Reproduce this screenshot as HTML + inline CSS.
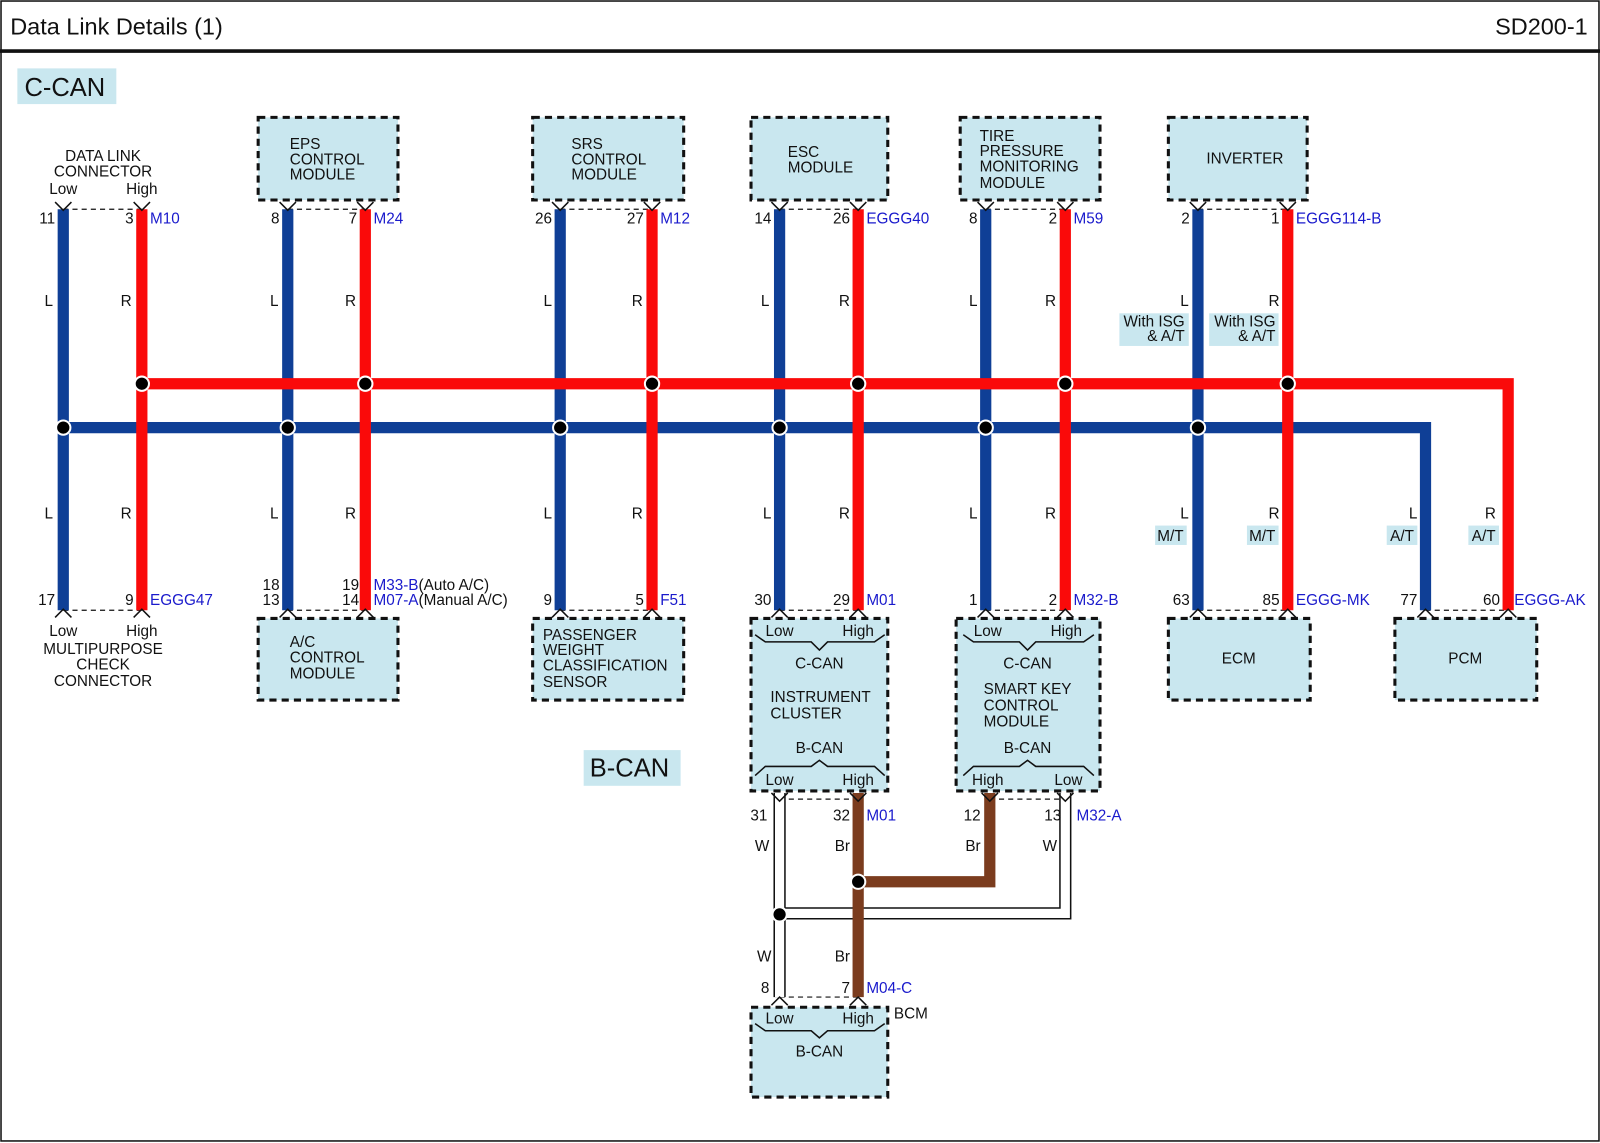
<!DOCTYPE html>
<html><head><meta charset="utf-8"><style>
html,body{margin:0;padding:0;background:#fff}
svg{display:block}
text{font-family:"Liberation Sans",Arial,sans-serif;font-size:15px;fill:#111}
.b{fill:#1a1acc}
.box{fill:#c9e7ef;stroke:#111;stroke-width:3;stroke-dasharray:7,5}
.dl{stroke:#111;stroke-width:1.2;stroke-dasharray:5,4;fill:none}
.ch{stroke:#111;stroke-width:1.5;fill:none}
.bl{stroke:#0f3f96;stroke-width:11;fill:none}
.rd{stroke:#fa0a0a;stroke-width:11;fill:none}
.br{stroke:#7b3c1e;stroke-width:11;fill:none}
.dot{fill:#000;stroke:#fff;stroke-width:2}
.c{text-anchor:middle}
.r{text-anchor:end}
</style></head><body>
<svg width="1600" height="1143" viewBox="0 0 1568 1120" preserveAspectRatio="none">
<rect x="1" y="1" width="1566" height="1117" fill="#fff" stroke="#111" stroke-width="1.5"/>
<text x="10" y="34" style="font-size:23px">Data Link Details (1)</text>
<text x="1556" y="34" class="r" style="font-size:23px">SD200-1</text>
<line x1="0" y1="50" x2="1568" y2="50" stroke="#111" stroke-width="3.5"/>
<rect x="17" y="67" width="97" height="35" fill="#c9e7ef"/>
<text x="24" y="94" style="font-size:25px">C-CAN</text>
<rect x="572" y="735" width="95" height="35" fill="#c9e7ef"/>
<text x="578" y="761" style="font-size:25px">B-CAN</text>

<!-- boxes -->
<rect class="box" x="253" y="115" width="137" height="81"/>
<rect class="box" x="522" y="115" width="148" height="81"/>
<rect class="box" x="736" y="115" width="134" height="81"/>
<rect class="box" x="941" y="115" width="137" height="81"/>
<rect class="box" x="1145" y="115" width="136" height="81"/>
<rect class="box" x="253" y="606" width="137" height="80"/>
<rect class="box" x="522" y="606" width="148" height="80"/>
<rect class="box" x="736" y="606" width="134" height="169"/>
<rect class="box" x="937" y="606" width="141" height="169"/>
<rect class="box" x="1145" y="606" width="139" height="80"/>
<rect class="box" x="1367" y="606" width="139" height="80"/>
<rect class="box" x="736" y="987" width="134" height="88"/>

<text x="284" y="146">EPS</text><text x="284" y="161">CONTROL</text><text x="284" y="176">MODULE</text>
<text x="560" y="146">SRS</text><text x="560" y="161">CONTROL</text><text x="560" y="176">MODULE</text>
<text x="772" y="154">ESC</text><text x="772" y="169">MODULE</text>
<text x="960" y="138">TIRE</text><text x="960" y="153">PRESSURE</text><text x="960" y="168">MONITORING</text><text x="960" y="184">MODULE</text>
<text x="1220" y="160" class="c">INVERTER</text>
<text x="101" y="158" class="c">DATA LINK</text><text x="101" y="173" class="c">CONNECTOR</text>
<text x="62" y="190" class="c">Low</text><text x="139" y="190" class="c">High</text>
<text x="62" y="623" class="c">Low</text><text x="139" y="623" class="c">High</text>
<text x="101" y="641" class="c">MULTIPURPOSE</text><text x="101" y="656" class="c">CHECK</text><text x="101" y="672" class="c">CONNECTOR</text>
<text x="284" y="634">A/C</text><text x="284" y="649">CONTROL</text><text x="284" y="665">MODULE</text>
<text x="532" y="627">PASSENGER</text><text x="532" y="642">WEIGHT</text><text x="532" y="657">CLASSIFICATION</text><text x="532" y="673">SENSOR</text>
<text x="1214" y="650" class="c">ECM</text>
<text x="1436" y="650" class="c">PCM</text>

<!-- IC internals -->
<text x="764" y="623" class="c">Low</text><text x="841" y="623" class="c">High</text>
<polyline class="ch" points="740,622 750,629 795,629 803,637 811,629 857,629 867,622"/>
<text x="803" y="655" class="c">C-CAN</text>
<text x="755" y="688">INSTRUMENT</text><text x="755" y="704">CLUSTER</text>
<text x="803" y="738" class="c">B-CAN</text>
<polyline class="ch" points="740,760 750,751 795,751 803,745 811,751 857,751 867,760"/>
<text x="764" y="769" class="c">Low</text><text x="841" y="769" class="c">High</text>
<!-- SKM internals -->
<text x="968" y="623" class="c">Low</text><text x="1045" y="623" class="c">High</text>
<polyline class="ch" points="944,622 954,629 999,629 1007,637 1015,629 1062,629 1072,622"/>
<text x="1007" y="655" class="c">C-CAN</text>
<text x="964" y="680">SMART KEY</text><text x="964" y="696">CONTROL</text><text x="964" y="712">MODULE</text>
<text x="1007" y="738" class="c">B-CAN</text>
<polyline class="ch" points="944,760 954,751 999,751 1007,745 1015,751 1062,751 1072,760"/>
<text x="968" y="769" class="c">High</text><text x="1047" y="769" class="c">Low</text>
<!-- BCM internals -->
<text x="764" y="1003" class="c">Low</text><text x="841" y="1003" class="c">High</text>
<polyline class="ch" points="740,1003 750,1010 795,1010 803,1017 811,1010 857,1010 867,1003"/>
<text x="803" y="1035" class="c">B-CAN</text>
<text x="876" y="998">BCM</text>

<!-- dashed connector lines -->
<line class="dl" x1="62" y1="205" x2="139" y2="205"/>
<line class="dl" x1="282" y1="205" x2="358" y2="205"/>
<line class="dl" x1="549" y1="205" x2="639" y2="205"/>
<line class="dl" x1="764" y1="205" x2="841" y2="205"/>
<line class="dl" x1="966" y1="205" x2="1044" y2="205"/>
<line class="dl" x1="1174" y1="205" x2="1262" y2="205"/>
<line class="dl" x1="62" y1="598" x2="139" y2="598"/>
<line class="dl" x1="282" y1="598" x2="358" y2="598"/>
<line class="dl" x1="549" y1="598" x2="639" y2="598"/>
<line class="dl" x1="764" y1="598" x2="841" y2="598"/>
<line class="dl" x1="966" y1="598" x2="1044" y2="598"/>
<line class="dl" x1="1174" y1="598" x2="1262" y2="598"/>
<line class="dl" x1="1397" y1="598" x2="1478" y2="598"/>
<line class="dl" x1="764" y1="783" x2="841" y2="783"/>
<line class="dl" x1="970" y1="783" x2="1044" y2="783"/>
<line class="dl" x1="764" y1="977" x2="841" y2="977"/>

<!-- white double wires -->
<path d="M764 777 V977 M1044 777 V895 H764" stroke="#111" stroke-width="12" fill="none"/>
<path d="M764 777 V977 M1044 777 V895 H764" stroke="#fff" stroke-width="9" fill="none"/>
<!-- brown -->
<path class="br" d="M841 777 V977 M970 777 V864 H841"/>

<path class="bl" d="M62 205 V598 M282 205 V598 M549 205 V598 M764 205 V598 M966 205 V598 M1174 205 V598 M62 419 H1397 V598"/>
<path class="rd" d="M139 205 V598 M358 205 V598 M639 205 V598 M841 205 V598 M1044 205 V598 M1262 205 V598 M139 376 H1478 V598"/>

<g class="dot">
<circle cx="139" cy="376" r="7"/><circle cx="358" cy="376" r="7"/><circle cx="639" cy="376" r="7"/><circle cx="841" cy="376" r="7"/><circle cx="1044" cy="376" r="7"/><circle cx="1262" cy="376" r="7"/>
<circle cx="62" cy="419" r="7"/><circle cx="282" cy="419" r="7"/><circle cx="549" cy="419" r="7"/><circle cx="764" cy="419" r="7"/><circle cx="966" cy="419" r="7"/><circle cx="1174" cy="419" r="7"/>
<circle cx="841" cy="864" r="7"/><circle cx="764" cy="896" r="7"/>
</g>

<g class="ch">
<polyline points="54,198 62,206 70,198"/><polyline points="131,198 139,206 147,198"/>
<polyline points="274,198 282,206 290,198"/><polyline points="350,198 358,206 366,198"/>
<polyline points="541,198 549,206 557,198"/><polyline points="631,198 639,206 647,198"/>
<polyline points="756,198 764,206 772,198"/><polyline points="833,198 841,206 849,198"/>
<polyline points="958,198 966,206 974,198"/><polyline points="1036,198 1044,206 1052,198"/>
<polyline points="1166,198 1174,206 1182,198"/><polyline points="1254,198 1262,206 1270,198"/>
<polyline points="756,777 764,785 772,777"/><polyline points="833,777 841,785 849,777"/>
<polyline points="962,777 970,785 978,777"/><polyline points="1036,777 1044,785 1052,777"/>
<polyline points="54,605 62,597 70,605"/><polyline points="131,605 139,597 147,605"/>
<polyline points="274,605 282,597 290,605"/><polyline points="350,605 358,597 366,605"/>
<polyline points="541,605 549,597 557,605"/><polyline points="631,605 639,597 647,605"/>
<polyline points="756,605 764,597 772,605"/><polyline points="833,605 841,597 849,605"/>
<polyline points="958,605 966,597 974,605"/><polyline points="1036,605 1044,597 1052,605"/>
<polyline points="1166,605 1174,597 1182,605"/><polyline points="1254,605 1262,597 1270,605"/>
<polyline points="1389,605 1397,597 1405,605"/><polyline points="1470,605 1478,597 1486,605"/>
<polyline points="756,985 764,977 772,985"/><polyline points="833,985 841,977 849,985"/>
</g>

<text x="54" y="219" class="r">11</text><text x="131" y="219" class="r">3</text><text x="147" y="219" class="b">M10</text>
<text x="274" y="219" class="r">8</text><text x="350" y="219" class="r">7</text><text x="366" y="219" class="b">M24</text>
<text x="541" y="219" class="r">26</text><text x="631" y="219" class="r">27</text><text x="647" y="219" class="b">M12</text>
<text x="756" y="219" class="r">14</text><text x="833" y="219" class="r">26</text><text x="849" y="219" class="b">EGGG40</text>
<text x="958" y="219" class="r">8</text><text x="1036" y="219" class="r">2</text><text x="1052" y="219" class="b">M59</text>
<text x="1166" y="219" class="r">2</text><text x="1254" y="219" class="r">1</text><text x="1270" y="219" class="b">EGGG114-B</text>

<g>
<text x="52" y="300" class="r">L</text><text x="129" y="300" class="r">R</text>
<text x="273" y="300" class="r">L</text><text x="349" y="300" class="r">R</text>
<text x="541" y="300" class="r">L</text><text x="630" y="300" class="r">R</text>
<text x="754" y="300" class="r">L</text><text x="833" y="300" class="r">R</text>
<text x="958" y="300" class="r">L</text><text x="1035" y="300" class="r">R</text>
<text x="1165" y="300" class="r">L</text><text x="1254" y="300" class="r">R</text>
<text x="52" y="508" class="r">L</text><text x="129" y="508" class="r">R</text>
<text x="273" y="508" class="r">L</text><text x="349" y="508" class="r">R</text>
<text x="541" y="508" class="r">L</text><text x="630" y="508" class="r">R</text>
<text x="756" y="508" class="r">L</text><text x="833" y="508" class="r">R</text>
<text x="958" y="508" class="r">L</text><text x="1035" y="508" class="r">R</text>
<text x="1165" y="508" class="r">L</text><text x="1254" y="508" class="r">R</text>
<text x="1389" y="508" class="r">L</text><text x="1466" y="508" class="r">R</text>
<text x="754" y="834" class="r">W</text><text x="833" y="834" class="r">Br</text>
<text x="961" y="834" class="r">Br</text><text x="1036" y="834" class="r">W</text>
<text x="756" y="942" class="r">W</text><text x="833" y="942" class="r">Br</text>
</g>
<rect x="1097" y="307" width="68" height="32" fill="#c9e7ef"/>
<text x="1161" y="320" class="r">With ISG</text><text x="1161" y="334" class="r">&amp; A/T</text>
<rect x="1185" y="307" width="68" height="32" fill="#c9e7ef"/>
<text x="1250" y="320" class="r">With ISG</text><text x="1250" y="334" class="r">&amp; A/T</text>
<rect x="1132" y="515" width="31" height="19" fill="#c9e7ef"/><text x="1147" y="530" class="c">M/T</text>
<rect x="1222" y="515" width="31" height="19" fill="#c9e7ef"/><text x="1237" y="530" class="c">M/T</text>
<rect x="1359" y="515" width="30" height="19" fill="#c9e7ef"/><text x="1374" y="530" class="c">A/T</text>
<rect x="1439" y="515" width="30" height="19" fill="#c9e7ef"/><text x="1454" y="530" class="c">A/T</text>

<text x="54" y="593" class="r">17</text><text x="131" y="593" class="r">9</text><text x="147" y="593" class="b">EGGG47</text>
<text x="274" y="578" class="r">18</text><text x="274" y="593" class="r">13</text>
<text x="352" y="578" class="r">19</text><text x="352" y="593" class="r">14</text>
<text x="366" y="578"><tspan class="b">M33-B</tspan>(Auto A/C)</text>
<text x="366" y="593"><tspan class="b">M07-A</tspan>(Manual A/C)</text>
<text x="541" y="593" class="r">9</text><text x="631" y="593" class="r">5</text><text x="647" y="593" class="b">F51</text>
<text x="756" y="593" class="r">30</text><text x="833" y="593" class="r">29</text><text x="849" y="593" class="b">M01</text>
<text x="958" y="593" class="r">1</text><text x="1036" y="593" class="r">2</text><text x="1052" y="593" class="b">M32-B</text>
<text x="1166" y="593" class="r">63</text><text x="1254" y="593" class="r">85</text><text x="1270" y="593" class="b">EGGG-MK</text>
<text x="1389" y="593" class="r">77</text><text x="1470" y="593" class="r">60</text><text x="1484" y="593" class="b">EGGG-AK</text>
<text x="752" y="804" class="r">31</text><text x="833" y="804" class="r">32</text><text x="849" y="804" class="b">M01</text>
<text x="961" y="804" class="r">12</text><text x="1040" y="804" class="r">13</text><text x="1055" y="804" class="b">M32-A</text>
<text x="754" y="973" class="r">8</text><text x="833" y="973" class="r">7</text><text x="849" y="973" class="b">M04-C</text>
</svg>
</body></html>
